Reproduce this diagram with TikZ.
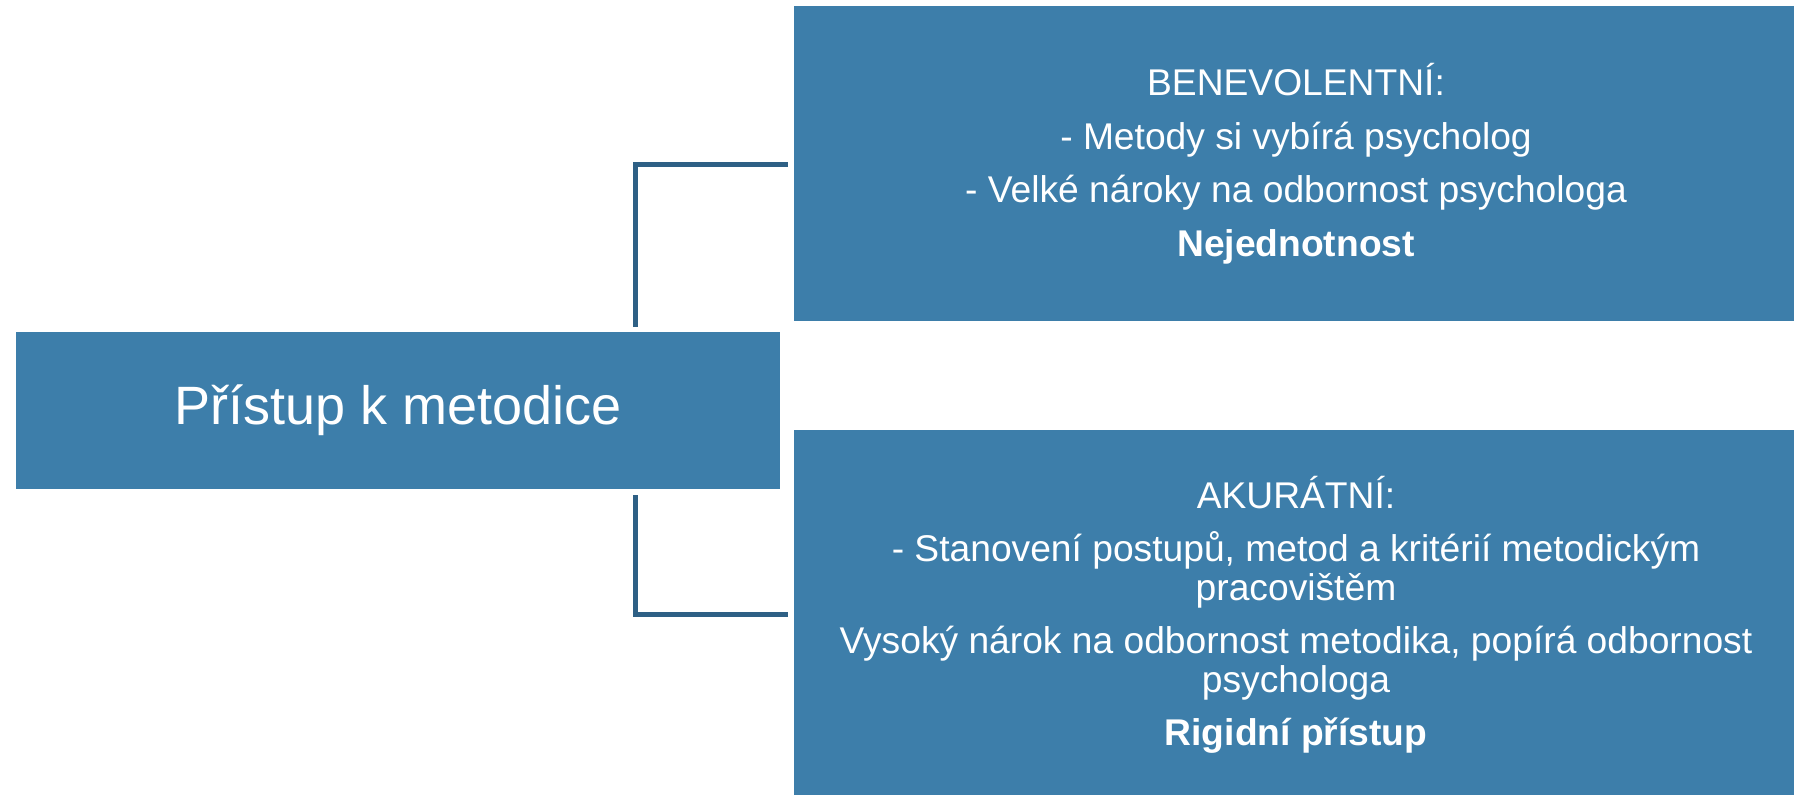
\documentclass[tikz,border=0pt]{standalone}
\usepackage{fontspec}
\setmainfont{Liberation Sans}
\definecolor{boxblue}{HTML}{3D7EAA}
\definecolor{linkblue}{HTML}{2E6085}
\begin{document}
\begin{tikzpicture}[x=0.5pt,y=-0.5pt,
  panel/.style={fill=boxblue, draw=none, inner sep=0pt, text=white, align=center, anchor=center},
  link/.style={draw=linkblue, line width=2.5pt}]
\useasboundingbox (0,0) rectangle (1794,794);
\node[panel, minimum width=382pt, minimum height=78.5pt, font=\fontsize{27}{32}\selectfont] (root) at (398,410.5) {Přístup k metodice};
\node[panel, minimum width=502pt, minimum height=157.5pt, font=\fontsize{18.6}{19.25}\selectfont] (ben) at (1296,163.5)
  {BENEVOLENTNÍ:\\[7.5pt]
   - Metody si vybírá psycholog\\[7.5pt]
   - Velké nároky na odbornost psychologa\\[7.5pt]
   \textbf{Nejednotnost}};
\node[panel, minimum width=502pt, minimum height=185pt, font=\fontsize{18.6}{19.25}\selectfont] (aku) at (1296,615)
  {AKURÁTNÍ:\\[7.5pt]
   - Stanovení postupů, metod a kritérií metodickým\\
   pracovištěm\\[7.5pt]
   Vysoký nárok na odbornost metodika, popírá odbornost\\
   psychologa\\[7.5pt]
   \textbf{Rigidní přístup}};
\coordinate (t1) at (635,327);
\coordinate (t2) at (635,164.5);
\coordinate (b1) at (635,495);
\coordinate (b2) at (635,614);
\draw[link] (t1) -- (t2) -- ([xshift=-3pt]t2 -| ben.west);
\draw[link] (b1) -- (b2) -- ([xshift=-3pt]b2 -| aku.west);
\end{tikzpicture}
\end{document}
